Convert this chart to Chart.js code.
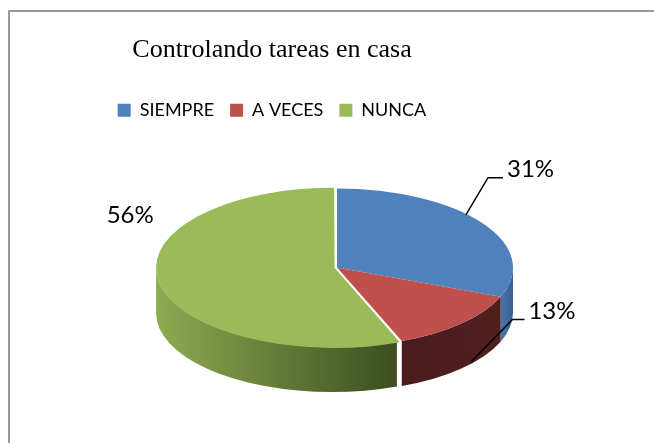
<!DOCTYPE html>
<html><head><meta charset="utf-8">
<script src="https://cdn.jsdelivr.net/npm/chart.js@4.4.0/dist/chart.umd.min.js"></script>
<style>
html,body{margin:0;padding:0;background:#fff;overflow:hidden;width:654px;height:443px;}
#frame{position:absolute;left:8px;top:10px;width:700px;height:500px;border-left:2px solid #9a9a9a;border-top:2px solid #9a9a9a;}
#c{position:absolute;left:0;top:0;}
</style></head><body>
<div id="frame"></div>
<canvas id="c" width="654" height="443"></canvas>
<script>
const categories = ['SIEMPRE', 'A VECES', 'NUNCA'];
const values = [31, 13, 56];
const topColors = ['#4F81BD', '#C0504D', '#9BBB59'];
const sideColors = [['#4A77AD', '#385E8C'], ['#4A1C1C', '#521F1F'], ['#8DAB51', '#3D4D20']];
const chartTitle = 'Controlando tareas en casa';

const pie3d = {
  id: 'pie3d',
  geom(chart) {
    const o = chart.options.plugins.pie3d;
    const meta = chart.getDatasetMeta(0);
    const a0 = meta.data[0];
    const R = a0.outerRadius;
    return {o, meta, R, ax: a0.x, ay: a0.y, cx: a0.x + o.shiftX, cy: a0.y + o.shiftY, sx: o.rx / R, sy: o.ry / R};
  },
  arcOffset(arc) {
    const off = (arc.options.offset || 0) / 4;
    const half = (arc.startAngle + arc.endAngle) / 2;
    const fix = 1 - Math.sin(Math.min(Math.PI, arc.circumference || 0));
    const t = off + off * fix;
    return [Math.cos(half) * t, Math.sin(half) * t];
  },
  beforeDatasetsDraw(chart) {
    const g = this.geom(chart);
    const ctx = chart.ctx;
    g.meta.data.forEach((arc, i) => {
      const [ox, oy] = this.arcOffset(arc);
      const s2 = Math.max(arc.startAngle, 0), e2 = Math.min(arc.endAngle, Math.PI);
      if (e2 <= s2) return;
      const ecx = g.cx + g.sx * ox, ecy = g.cy + g.sy * oy;
      const rx = g.sx * g.R, ry = g.sy * g.R, d = g.o.depth;
      const xa = ecx + rx * Math.cos(s2), xb = ecx + rx * Math.cos(e2);
      const grad = ctx.createLinearGradient(Math.min(xa, xb), 0, Math.max(xa, xb), 0);
      grad.addColorStop(0, sideColors[i][0]);
      grad.addColorStop(1, sideColors[i][1]);
      ctx.save();
      ctx.beginPath();
      ctx.ellipse(ecx, ecy, rx, ry, 0, s2, e2, false);
      ctx.ellipse(ecx, ecy + d, rx, ry, 0, e2, s2, true);
      ctx.closePath();
      ctx.fillStyle = grad;
      ctx.fill();
      ctx.restore();
    });
    ctx.save();
    ctx.translate(g.cx, g.cy);
    ctx.scale(g.sx, g.sy);
    ctx.translate(-g.ax, -g.ay);
  },
  afterDatasetsDraw(chart) {
    chart.ctx.restore();
  },
  afterDraw(chart) {
    const g = this.geom(chart);
    const ctx = chart.ctx;
    const sum = values.reduce((a, b) => a + b, 0);
    ctx.save();
    ctx.font = g.o.labelFont;
    ctx.fillStyle = '#000';
    ctx.strokeStyle = '#000';
    ctx.lineWidth = 1.5;
    g.meta.data.forEach((arc, i) => {
      const L = g.o.labels[i];
      const [ox, oy] = this.arcOffset(arc);
      const mid = (arc.startAngle + arc.endAngle) / 2;
      const ex = g.cx + g.sx * (ox + g.R * L.r * Math.cos(mid)) + L.shift[0];
      const ey = g.cy + g.sy * (oy + g.R * L.r * Math.sin(mid)) + (L.below ? g.o.depth : 0) + L.shift[1];
      const txt = Math.round(values[i] / sum * 100) + '%';
      if (L.elbow) {
        const bx = ex + L.elbow[0], by = ey + L.elbow[1];
        ctx.beginPath();
        ctx.moveTo(ex, ey); ctx.lineTo(bx, by); ctx.lineTo(bx + L.tail, by);
        ctx.stroke();
        ctx.textAlign = 'left'; ctx.textBaseline = 'middle';
        ctx.fillText(txt, bx + L.tail + 4, by + L.textDy);
      } else {
        ctx.textAlign = 'center'; ctx.textBaseline = 'middle';
        ctx.fillText(txt, ex, ey);
      }
    });
    ctx.restore();
  }
};

new Chart(document.getElementById('c'), {
  type: 'pie',
  data: {
    labels: categories,
    datasets: [{
      data: values,
      backgroundColor: topColors,
      borderWidth: 0,
      offset: [0, 0, 10],
      radius: 176,
      clip: false
    }]
  },
  options: {
    responsive: false,
    animation: false,
    events: [],
    layout: {padding: {left: 0, right: 110, top: 0, bottom: 45}},
    plugins: {
      title: {
        display: true, text: chartTitle, color: '#000',
        font: {family: '"Liberation Serif", "Times New Roman", serif', size: 26, weight: 'normal'},
        padding: {top: 35, bottom: 19}
      },
      legend: {
        position: 'top',
        labels: {color: '#000', font: {family: 'Lato, sans-serif', size: 18}, boxWidth: 13, boxHeight: 13, padding: 16}
      },
      tooltip: {enabled: false},
      pie3d: {
        shiftX: 65, shiftY: 4, rx: 176, ry: 79, depth: 45,
        labelFont: '24px Lato, sans-serif',
        labels: [
          {r: 0.9, below: false, shift: [-2, -13], elbow: [22, -37], tail: 15, textDy: -8},
          {r: 1.0, below: true, shift: [10, -7], elbow: [41, -42], tail: 12, textDy: -8},
          {r: 1.0, below: false, shift: [-29, -68]}
        ]
      }
    }
  },
  plugins: [pie3d]
});
</script>
</body></html>
